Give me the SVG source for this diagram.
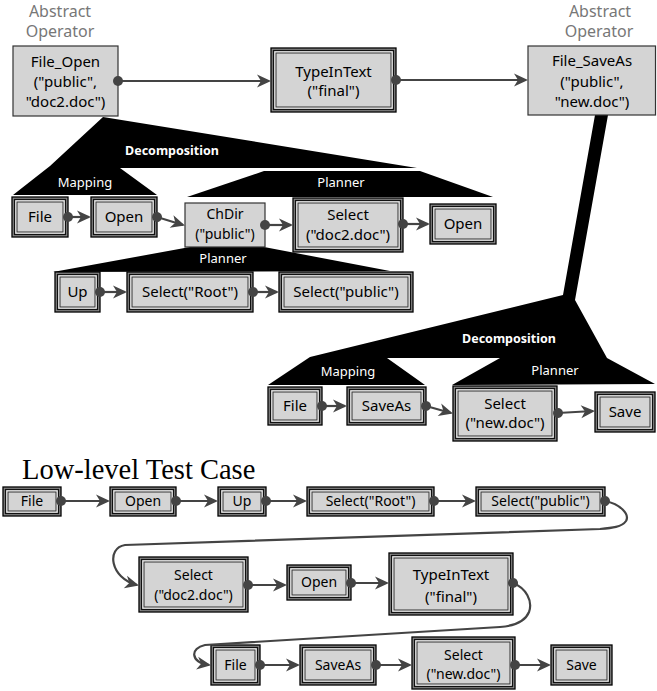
<svg xmlns="http://www.w3.org/2000/svg" width="657" height="691" viewBox="0 0 657 691">
<defs>
<style>
.t{font-family:"Noto Sans","DejaVu Sans",sans-serif;font-size:15px;fill:#000;text-anchor:middle}
.sm{font-size:14px}
.ab{font-family:"Noto Sans","DejaVu Sans",sans-serif;font-size:16px;fill:#777;text-anchor:middle}
.w{font-family:"Noto Sans","DejaVu Sans",sans-serif;font-size:13px;fill:#fff;text-anchor:middle}
.wb{font-family:"Noto Sans","DejaVu Sans",sans-serif;font-size:12.5px;font-weight:bold;fill:#fff;text-anchor:middle}
.ttl{font-family:"Liberation Serif","Times New Roman",serif;font-size:28.5px;fill:#000}
.o{fill:#8a8a8a;stroke:#000;stroke-width:1.3}
.m{fill:#f2f2f2;stroke:#111;stroke-width:1.3}
.i{fill:#d4d4d4;stroke:#333;stroke-width:1}
.s{fill:#d4d4d4;stroke:#333;stroke-width:1.2}
.blk{fill:#000}
.c{fill:none;stroke:#444;stroke-width:2.2;marker-start:url(#dot);marker-end:url(#arr)}
</style>
<marker id="dot" viewBox="-6 -6 12 12" markerWidth="12" markerHeight="12" markerUnits="userSpaceOnUse" orient="auto"><circle r="5" fill="#444"/></marker>
<marker id="arr" viewBox="-14 -8 17 16" refX="0" refY="0" markerWidth="17" markerHeight="16" markerUnits="userSpaceOnUse" orient="auto"><path d="M2,0 L-12,-6.5 L-8,0 L-12,6.5 Z" fill="#444"/></marker>
</defs>
<rect width="657" height="691" fill="#fff"/>

<g id="labels">
<text class="ab" x="60" y="17">Abstract</text>
<text class="ab" x="60" y="37">Operator</text>
<text class="ab" x="600" y="17">Abstract</text>
<text class="ab" x="599" y="37">Operator</text>
<text class="ttl" x="22" y="479">Low-level Test Case</text>
</g>

<g id="decomposition-shapes">
<polygon class="blk" points="103,117 417,168 120,168 157,195 13,195 50,166"/>
<polygon class="blk" points="187,197 264,171 420,171 493,197"/>
<polygon class="blk" points="53,272 190,247 264,247 390,271"/>
<polygon class="blk" points="595,115 608,115 575,300 607,358 655,384 452,385 500,358 387,358 425,385 268,385 310,357 563,295"/>
<text class="wb" x="172" y="155">Decomposition</text>
<text class="w" x="85" y="187">Mapping</text>
<text class="w" x="341" y="187">Planner</text>
<text class="w" x="223" y="263">Planner</text>
<text class="wb" x="509" y="343">Decomposition</text>
<text class="w" x="348" y="376">Mapping</text>
<text class="w" x="555" y="375">Planner</text>
</g>

<g id="n-file-open">
<rect class="s" x="13" y="46" width="105" height="70"/>
<text class="t" x="65.5" y="67">File_Open</text>
<text class="t" x="65.5" y="87">("public",</text>
<text class="t" x="65.5" y="107">"doc2.doc")</text>
</g>
<g id="n-typeintext-top">
<rect class="o" x="271" y="48" width="125" height="64"/>
<rect class="m" x="273.5" y="50.5" width="120" height="59"/>
<rect class="i" x="276" y="53" width="115" height="54"/>
<text class="t" x="333.5" y="77">TypeInText</text>
<text class="t" x="333.5" y="96">("final")</text>
</g>
<g id="n-file-saveas">
<rect class="s" x="528" y="46" width="127.5" height="69"/>
<text class="t" x="592" y="66">File_SaveAs</text>
<text class="t" x="592" y="87">("public",</text>
<text class="t" x="592" y="107">"new.doc")</text>
</g>

<g id="n-d-file">
<rect class="o" x="12" y="197" width="56" height="40"/>
<rect class="m" x="14.5" y="199.5" width="51" height="35"/>
<rect class="i" x="17" y="202" width="46" height="30"/>
<text class="t" x="40" y="222">File</text>
</g>
<g id="n-d-open">
<rect class="o" x="91" y="197" width="66" height="40"/>
<rect class="m" x="93.5" y="199.5" width="61" height="35"/>
<rect class="i" x="96" y="202" width="56" height="30"/>
<text class="t" x="124" y="222">Open</text>
</g>
<g id="n-d-chdir">
<rect class="s" x="185" y="203" width="80" height="44"/>
<text class="t sm" x="225" y="219">ChDir</text>
<text class="t sm" x="225" y="239">("public")</text>
</g>
<g id="n-d-select-doc2">
<rect class="o" x="293" y="198" width="110" height="54"/>
<rect class="m" x="295.5" y="200.5" width="105" height="49"/>
<rect class="i" x="298" y="203" width="100" height="44"/>
<text class="t" x="348" y="220">Select</text>
<text class="t" x="348" y="240">("doc2.doc")</text>
</g>
<g id="n-d-open2">
<rect class="o" x="430" y="204" width="66" height="40"/>
<rect class="m" x="432.5" y="206.5" width="61" height="35"/>
<rect class="i" x="435" y="209" width="56" height="30"/>
<text class="t" x="463" y="229">Open</text>
</g>
<g id="n-d-up">
<rect class="o" x="55" y="272" width="45" height="40"/>
<rect class="m" x="57.5" y="274.5" width="40" height="35"/>
<rect class="i" x="60" y="277" width="35" height="30"/>
<text class="t" x="77.5" y="297">Up</text>
</g>
<g id="n-d-select-root">
<rect class="o" x="127" y="272" width="126" height="40"/>
<rect class="m" x="129.5" y="274.5" width="121" height="35"/>
<rect class="i" x="132" y="277" width="116" height="30"/>
<text class="t" x="190" y="297">Select("Root")</text>
</g>
<g id="n-d-select-public">
<rect class="o" x="279" y="272" width="134" height="40"/>
<rect class="m" x="281.5" y="274.5" width="129" height="35"/>
<rect class="i" x="284" y="277" width="124" height="30"/>
<text class="t" x="346" y="297">Select("public")</text>
</g>

<g id="n-r-file">
<rect class="o" x="268" y="387" width="54" height="38"/>
<rect class="m" x="270.5" y="389.5" width="49" height="33"/>
<rect class="i" x="273" y="392" width="44" height="28"/>
<text class="t" x="295" y="411">File</text>
</g>
<g id="n-r-saveas">
<rect class="o" x="347" y="387" width="79" height="38"/>
<rect class="m" x="349.5" y="389.5" width="74" height="33"/>
<rect class="i" x="352" y="392" width="69" height="28"/>
<text class="t" x="386.5" y="411">SaveAs</text>
</g>
<g id="n-r-select-new">
<rect class="o" x="453" y="386" width="104" height="55"/>
<rect class="m" x="455.5" y="388.5" width="99" height="50"/>
<rect class="i" x="458" y="391" width="94" height="45"/>
<text class="t" x="505" y="409">Select</text>
<text class="t" x="505" y="428">("new.doc")</text>
</g>
<g id="n-r-save">
<rect class="o" x="595" y="392" width="60" height="40"/>
<rect class="m" x="597.5" y="394.5" width="55" height="35"/>
<rect class="i" x="600" y="397" width="50" height="30"/>
<text class="t" x="625" y="417">Save</text>
</g>

<g id="n-l-file">
<rect class="o" x="3" y="487" width="58" height="29"/>
<rect class="m" x="5.5" y="489.5" width="53" height="24"/>
<rect class="i" x="8" y="492" width="48" height="19"/>
<text class="t sm" x="32" y="506">File</text>
</g>
<g id="n-l-open">
<rect class="o" x="110" y="487" width="66" height="29"/>
<rect class="m" x="112.5" y="489.5" width="61" height="24"/>
<rect class="i" x="115" y="492" width="56" height="19"/>
<text class="t sm" x="143" y="506">Open</text>
</g>
<g id="n-l-up">
<rect class="o" x="218" y="487" width="48" height="29"/>
<rect class="m" x="220.5" y="489.5" width="43" height="24"/>
<rect class="i" x="223" y="492" width="38" height="19"/>
<text class="t sm" x="242" y="506">Up</text>
</g>
<g id="n-l-select-root">
<rect class="o" x="307" y="487" width="127" height="29"/>
<rect class="m" x="309.5" y="489.5" width="122" height="24"/>
<rect class="i" x="312" y="492" width="117" height="19"/>
<text class="t sm" x="370.5" y="506">Select("Root")</text>
</g>
<g id="n-l-select-public">
<rect class="o" x="476" y="487" width="129" height="29"/>
<rect class="m" x="478.5" y="489.5" width="124" height="24"/>
<rect class="i" x="481" y="492" width="119" height="19"/>
<text class="t sm" x="540.5" y="506">Select("public")</text>
</g>
<g id="n-l-select-doc2">
<rect class="o" x="139" y="557" width="109" height="55"/>
<rect class="m" x="141.5" y="559.5" width="104" height="50"/>
<rect class="i" x="144" y="562" width="99" height="45"/>
<text class="t sm" x="193.5" y="580">Select</text>
<text class="t sm" x="193.5" y="600">("doc2.doc")</text>
</g>
<g id="n-l-open2">
<rect class="o" x="287" y="565" width="64" height="35"/>
<rect class="m" x="289.5" y="567.5" width="59" height="30"/>
<rect class="i" x="292" y="570" width="54" height="25"/>
<text class="t sm" x="319" y="587">Open</text>
</g>
<g id="n-l-typeintext">
<rect class="o" x="389" y="553" width="124" height="62"/>
<rect class="m" x="391.5" y="555.5" width="119" height="57"/>
<rect class="i" x="394" y="558" width="114" height="52"/>
<text class="t" x="451" y="580">TypeInText</text>
<text class="t" x="451" y="602">("final")</text>
</g>
<g id="n-l-file2">
<rect class="o" x="211" y="645" width="49" height="40"/>
<rect class="m" x="213.5" y="647.5" width="44" height="35"/>
<rect class="i" x="216" y="650" width="39" height="30"/>
<text class="t sm" x="235.5" y="670">File</text>
</g>
<g id="n-l-saveas">
<rect class="o" x="300" y="645" width="76" height="40"/>
<rect class="m" x="302.5" y="647.5" width="71" height="35"/>
<rect class="i" x="305" y="650" width="66" height="30"/>
<text class="t sm" x="338" y="670">SaveAs</text>
</g>
<g id="n-l-select-new">
<rect class="o" x="412" y="637" width="103" height="52"/>
<rect class="m" x="414.5" y="639.5" width="98" height="47"/>
<rect class="i" x="417" y="642" width="93" height="42"/>
<text class="t sm" x="463.5" y="660">Select</text>
<text class="t sm" x="463.5" y="679">("new.doc")</text>
</g>
<g id="n-l-save">
<rect class="o" x="551" y="645" width="61" height="40"/>
<rect class="m" x="553.5" y="647.5" width="56" height="35"/>
<rect class="i" x="556" y="650" width="51" height="30"/>
<text class="t sm" x="581.5" y="670">Save</text>
</g>

<g id="connectors">
<path class="c" d="M118,81 L269,81"/>
<path class="c" d="M396,80 L526,80"/>
<path class="c" d="M68,217 L89,217"/>
<path class="c" d="M157,217 L183,225"/>
<path class="c" d="M265,225 L291,225"/>
<path class="c" d="M403,224 L428,224"/>
<path class="c" d="M100,292 L125,292"/>
<path class="c" d="M253,292 L277,292"/>
<path class="c" d="M322,406 L345,406"/>
<path class="c" d="M426,406 L451,413"/>
<path class="c" d="M558,413 L593,411"/>
<path class="c" d="M61,501 L108,501"/>
<path class="c" d="M176,501 L216,501"/>
<path class="c" d="M266,501 L305,501"/>
<path class="c" d="M434,501 L474,501"/>
<path class="c" d="M605,501 C620,504 630,514 626,521 C622,527 612,528 600,529 L125,545 C106,548 110,578 137,585"/>
<path class="c" d="M248,585 L285,585"/>
<path class="c" d="M351,583 L387,583"/>
<path class="c" d="M513,583 C526,588 533,601 529,612 C525,622 513,626 500,627 L205,645 C190,648 190,662 209,665"/>
<path class="c" d="M260,665 L298,665"/>
<path class="c" d="M376,665 L410,665"/>
<path class="c" d="M515,665 L549,665"/>
</g>
</svg>
